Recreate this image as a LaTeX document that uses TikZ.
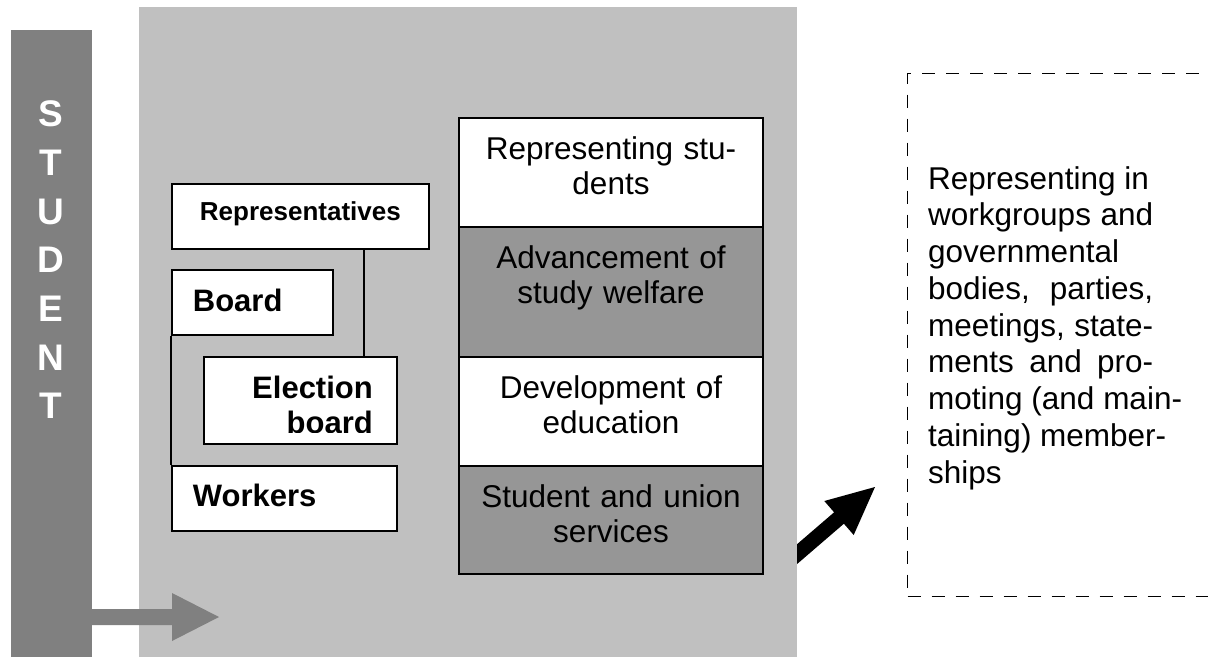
\documentclass[tikz,border=0pt]{standalone}
\usepackage{fontspec}
\setmainfont{Liberation Sans}
\definecolor{bargray}{HTML}{808080}
\definecolor{areagray}{HTML}{C0C0C0}
\definecolor{darkseg}{HTML}{969696}
\begin{document}
\begin{tikzpicture}[x=1pt,y=-1pt,
  lbox/.style={draw=black, line width=1.8pt, fill=white, inner ysep=0pt, anchor=north west},
  lfont/.style={font=\bfseries\fontsize{31}{35}\selectfont},
  seg/.style={draw=black, line width=1.6pt, minimum width=304, inner xsep=7pt, text width=290,
    align=center, inner ysep=0pt, anchor=north, text height=42, font=\fontsize{31.5}{35}\selectfont},
  extframe/.style={draw=black, line width=1.3pt, dash pattern=on 13pt off 11pt, anchor=north west, inner sep=0pt}
]
\clip (0,0) rectangle (1208,657);
\fill[white] (0,0) rectangle (1208,657);
% black block arrow (starts behind the grey area)
\fill[black] (784.9,574.5) -- (843.9,523.7) -- (853.7,535) -- (875,487) -- (824.3,501) -- (834.1,512.3) -- (775.1,563.1) -- cycle;
% grey area
\node[fill=areagray, minimum width=658, minimum height=650, anchor=north west, inner sep=0pt] (area) at (139,7) {};
% student bar
\node[fill=bargray, minimum width=81, minimum height=627, anchor=north west, inner sep=0pt] (bar) at (11,30) {};
\node[text=white, font=\bfseries\fontsize{37}{48.7}\selectfont, align=center, anchor=north, inner sep=0pt,
  text height=319.2, text depth=10] (letters) at (51,99.5) {S\\T\\U\\D\\E\\N\\T};
% grey arrow
\fill[bargray] (92,609) -- (172,609) -- (172,593) -- (219,617) -- (172,641) -- (172,625) -- (92,625) -- cycle;
% left organisation boxes
\node[lbox, minimum width=257, minimum height=65, inner xsep=0pt, text width=257, align=center,
  text height=37, text depth=28, font=\bfseries\fontsize{26}{30}\selectfont] (rep) at (171,183) {Representatives};
\node[lbox, lfont, minimum width=161, minimum height=65, inner xsep=21pt, text width=119, align=left,
  text height=42, text depth=23] (board) at (171,269) {Board};
\node[lbox, minimum width=193, minimum height=87, inner sep=0pt] (elec) at (203,356) {};
\begin{scope}
  \clip (203,356) rectangle (396,432);
  \node[lfont, anchor=north east, inner sep=0pt, text height=77, text depth=10, align=right] (electext) at (373,356) {Election\\board};
\end{scope}
\node[lbox, lfont, minimum width=225, minimum height=65, inner xsep=21pt, text width=183, align=left,
  text height=41, text depth=24] (workers) at (171,465) {Workers};
% connectors
\draw[line width=1.4pt] ([xshift=63.5pt]rep.south) -- ([xshift=63.5pt]rep.south |- elec.north);
\draw[line width=1.4pt] (board.south west) -- (workers.north west);
% right column
\node[seg, fill=white, text depth=67] (s1) at (611,117) {Representing stu-\\dents};
\node[seg, fill=darkseg, text depth=88] (s2) at (611,226) {Advancement of\\study welfare};
\node[seg, fill=white, text depth=67] (s3) at (611,356) {Development of\\education};
\node[seg, fill=darkseg, text depth=66] (s4) at (611,465) {Student and union\\services};
% external frame
\node[extframe, minimum width=340, minimum height=523] (extbox) at (907,73) {};
\node[anchor=north west, inner sep=0pt, text height=316, text depth=10, align=left, font=\fontsize{31.5}{36.75}\selectfont] (exttext) at (928,167) {%
Representing in\\
\makebox[225pt][s]{workgroups and}\\
governmental\\
\makebox[225pt][s]{bodies, parties,}\\
\makebox[225pt][s]{meetings, state-}\\
\makebox[225pt][s]{ments and pro-}\\
moting (and main-\\
taining) member-\\
ships};
\end{tikzpicture}
\end{document}
